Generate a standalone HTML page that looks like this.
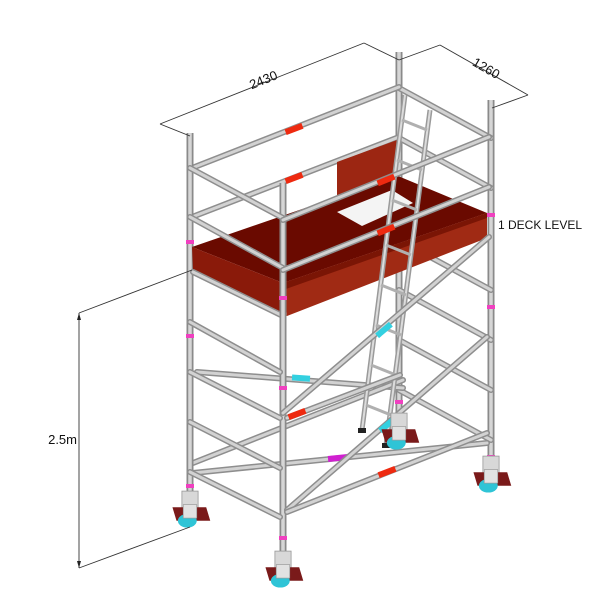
<!DOCTYPE html>
<html><head><meta charset="utf-8"><style>
html,body{margin:0;padding:0;background:#fff}
svg{display:block}
.t{stroke:#8e8e8e;stroke-width:6;stroke-linecap:round;fill:none}
.h{stroke:#d2d2d2;stroke-width:3;stroke-linecap:round;fill:none}
.p{stroke:#8a8a8a;stroke-width:7;fill:none}
.ph{stroke:#d6d6d6;stroke-width:3.5;fill:none}
.d{stroke:#333;stroke-width:0.9;fill:none}
text{font-family:"Liberation Sans",sans-serif;fill:#111}
</style></head><body>
<svg width="612" height="608" viewBox="0 0 612 608" xmlns="http://www.w3.org/2000/svg">
<defs>
<g id="cast" transform="scale(1.35)">
<rect x="-6" y="-14" width="12" height="14" fill="#d8d8d8" stroke="#999" stroke-width="0.6"/>
<polygon points="-13,-2 12,-2 15,8 -10,8" fill="#7a1a1a"/>
<ellipse cx="-2" cy="8" rx="7" ry="5" fill="#2fc4d6"/>
<rect x="-5" y="-4" width="10" height="10" fill="#e2e2e2" stroke="#999" stroke-width="0.5"/>
</g>
</defs>
<line class="p" x1="399" y1="52" x2="399" y2="425"/><line class="ph" x1="399" y1="52" x2="399" y2="425"/>
<line class="p" x1="491" y1="100" x2="491" y2="465"/><line class="ph" x1="491" y1="100" x2="491" y2="465"/>
<g>
<line class="t" x1="399" y1="88" x2="491" y2="138"/><line class="h" x1="399" y1="88" x2="491" y2="138"/>
<line class="t" x1="399" y1="138" x2="491" y2="188"/><line class="h" x1="399" y1="138" x2="491" y2="188"/>
<line class="t" x1="399" y1="240" x2="491" y2="290"/><line class="h" x1="399" y1="240" x2="491" y2="290"/>
<line class="t" x1="399" y1="290" x2="491" y2="340"/><line class="h" x1="399" y1="290" x2="491" y2="340"/>
<line class="t" x1="399" y1="340" x2="491" y2="390"/><line class="h" x1="399" y1="340" x2="491" y2="390"/>
<line class="t" x1="399" y1="390" x2="491" y2="440"/><line class="h" x1="399" y1="390" x2="491" y2="440"/>
</g>
<line class="t" x1="197" y1="372" x2="403" y2="388"/><line class="h" x1="197" y1="372" x2="403" y2="388"/>
<rect x="292" y="375" width="18" height="6" fill="#33d0e0" transform="rotate(4 300 378)"/>
<line class="t" x1="193" y1="463" x2="403" y2="380"/><line class="h" x1="193" y1="463" x2="403" y2="380"/>
<line class="t" x1="193" y1="473" x2="487" y2="443"/><line class="h" x1="193" y1="473" x2="487" y2="443"/>
<rect x="328" y="455" width="20" height="6" fill="#d020d0" transform="rotate(-6 338 458)"/>
<line class="t" x1="192" y1="168" x2="399" y2="87"/><line class="h" x1="192" y1="168" x2="399" y2="87"/>
<rect x="285" y="126" width="18" height="6" fill="#ee2a10" transform="rotate(-21 294 129)"/>
<line class="t" x1="192" y1="217" x2="399" y2="137"/><line class="h" x1="192" y1="217" x2="399" y2="137"/>
<rect x="285" y="175" width="18" height="6" fill="#ee2a10" transform="rotate(-21 294 178)"/>
<polygon points="337,162 397,140 397,192 337,215" fill="#9c2612"/>
<line class="p" x1="190" y1="133" x2="190" y2="500"/><line class="ph" x1="190" y1="133" x2="190" y2="500"/>
<polygon points="192,247 398,176 487,213 283,283" fill="#6a0a00"/>
<polygon points="337,212 392,190 413,203 362,226" fill="#f4f4f4"/>
<polygon points="192,247 283,283 287,316 193,270" fill="#8a1a0a"/>
<polygon points="283,283 487,213 487,238 287,316" fill="#a02a14"/>
<polygon points="283,283 487,213 487,218 283,290" fill="#7a1505"/>
<line class="t" x1="193" y1="272" x2="283" y2="316"/><line class="h" x1="193" y1="272" x2="283" y2="316"/>
<line stroke="#9a9a9a" stroke-width="5" x1="405" y1="95" x2="362" y2="430"/><line stroke="#dcdcdc" stroke-width="2" x1="405" y1="95" x2="362" y2="430"/>
<line stroke="#9a9a9a" stroke-width="5" x1="430" y1="110" x2="386" y2="445"/><line stroke="#dcdcdc" stroke-width="2" x1="430" y1="110" x2="386" y2="445"/>
<g stroke="#b0b0b0" stroke-width="3">
<line x1="402" y1="120" x2="427" y2="130"/><line x1="397" y1="160" x2="422" y2="170"/><line x1="392" y1="200" x2="417" y2="210"/><line x1="386" y1="245" x2="411" y2="255"/><line x1="381" y1="285" x2="406" y2="295"/><line x1="376" y1="325" x2="401" y2="335"/><line x1="371" y1="365" x2="396" y2="375"/><line x1="366" y1="405" x2="391" y2="415"/>
</g>
<rect x="358" y="428" width="8" height="5" fill="#222"/><rect x="382" y="443" width="8" height="5" fill="#222"/>
<line class="p" x1="283" y1="183" x2="283" y2="560"/><line class="ph" x1="283" y1="183" x2="283" y2="560"/>
<line class="t" x1="190" y1="168" x2="283" y2="218"/><line class="h" x1="190" y1="168" x2="283" y2="218"/>
<line class="t" x1="190" y1="217" x2="283" y2="268"/><line class="h" x1="190" y1="217" x2="283" y2="268"/>
<line class="t" x1="190" y1="322" x2="280" y2="372"/><line class="h" x1="190" y1="322" x2="280" y2="372"/>
<line class="t" x1="190" y1="372" x2="280" y2="418"/><line class="h" x1="190" y1="372" x2="280" y2="418"/>
<line class="t" x1="190" y1="422" x2="280" y2="468"/><line class="h" x1="190" y1="422" x2="280" y2="468"/>
<line class="t" x1="190" y1="472" x2="280" y2="517"/><line class="h" x1="190" y1="472" x2="280" y2="517"/>
<line class="t" x1="283" y1="220" x2="489" y2="137"/><line class="h" x1="283" y1="220" x2="489" y2="137"/>
<rect x="377" y="177" width="18" height="6" fill="#ee2a10" transform="rotate(-22 386 180)"/>
<line class="t" x1="283" y1="270" x2="489" y2="187"/><line class="h" x1="283" y1="270" x2="489" y2="187"/>
<rect x="377" y="227" width="18" height="6" fill="#ee2a10" transform="rotate(-22 386 230)"/>
<line class="t" x1="283" y1="413" x2="489" y2="237"/><line class="h" x1="283" y1="413" x2="489" y2="237"/>
<rect x="375" y="327" width="18" height="6" fill="#33d0e0" transform="rotate(-40 384 330)"/>
<line class="t" x1="287" y1="510" x2="487" y2="337"/><line class="h" x1="287" y1="510" x2="487" y2="337"/>
<rect x="378" y="422" width="18" height="6" fill="#33d0e0" transform="rotate(-40 387 425)"/>
<line class="t" x1="287" y1="512" x2="487" y2="433"/><line class="h" x1="287" y1="512" x2="487" y2="433"/>
<rect x="378" y="469" width="18" height="6" fill="#ee2a10" transform="rotate(-21 387 472)"/>
<line class="t" x1="287" y1="418" x2="400" y2="375"/><line class="h" x1="287" y1="418" x2="400" y2="375"/>
<rect x="288" y="411" width="18" height="6" fill="#ee2a10" transform="rotate(-21 297 414)"/>
<g fill="#f040c0">
<rect x="186" y="240" width="8" height="4"/><rect x="186" y="334" width="8" height="4"/><rect x="186" y="484" width="8" height="4"/>
<rect x="279" y="296" width="8" height="4"/><rect x="279" y="386" width="8" height="4"/><rect x="279" y="536" width="8" height="4"/>
<rect x="487" y="213" width="8" height="4"/><rect x="487" y="305" width="8" height="4"/><rect x="487" y="455" width="8" height="4"/>
<rect x="395" y="400" width="8" height="4"/>
</g>
<use href="#cast" x="190" y="510"/>
<use href="#cast" x="283" y="570"/>
<use href="#cast" x="491" y="475"/>
<use href="#cast" x="399" y="432"/>
<line class="d" x1="160" y1="124" x2="364" y2="43"/>
<line class="d" x1="160" y1="124" x2="190" y2="136"/>
<line class="d" x1="364" y1="43" x2="399" y2="60"/>
<line class="d" x1="440" y1="45" x2="528" y2="95"/>
<line class="d" x1="399" y1="60" x2="440" y2="45"/>
<line class="d" x1="528" y1="95" x2="492" y2="108"/>
<text x="265" y="84" font-size="13" transform="rotate(-22 265 84)" text-anchor="middle">2430</text>
<text x="484" y="72" font-size="13" transform="rotate(30 484 72)" text-anchor="middle">1260</text>
<line class="d" x1="79" y1="313" x2="79" y2="568"/>
<line class="d" x1="79" y1="313" x2="192" y2="270"/>
<line class="d" x1="79" y1="568" x2="190" y2="527"/>
<polygon points="79,313 77,320 81,320" fill="#222"/><polygon points="79,568 77,561 81,561" fill="#222"/>
<text x="77" y="444" font-size="13" text-anchor="end">2.5m</text>
<text x="498" y="229" font-size="12">1 DECK LEVEL</text>
</svg>
</body></html>
